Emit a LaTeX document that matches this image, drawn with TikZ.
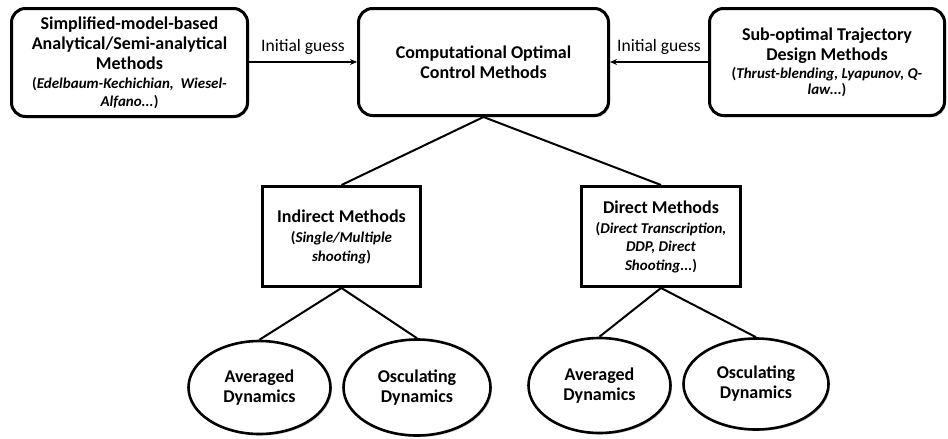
\documentclass[tikz,border=0pt]{standalone}
\usepackage{fontspec}
\setmainfont{Carlito}
\usetikzlibrary{shapes.geometric,arrows.meta,shadows}
\begin{document}
\begin{tikzpicture}[x=1pt,y=-1pt,
  base/.style={draw=black, fill=white, align=center, inner sep=0pt,
    font=\fontsize{18}{20}\selectfont\bfseries,
    drop shadow={shadow xshift=1.5pt, shadow yshift=-1.5pt, opacity=0.35, fill=black!60}},
  rbox/.style={base, line width=3pt, rounded corners=14pt},
  sbox/.style={base, line width=3pt},
  oval/.style={base, ellipse, line width=2.6pt},
  conn/.style={line width=2pt},
  arr/.style={line width=2pt, -{Stealth[length=7pt,width=6pt]}},
  lbl/.style={font=\fontsize{17.5}{20}\selectfont}
]
\useasboundingbox (0,0) rectangle (948,439);

\node[rbox, minimum width=236pt, minimum height=108pt] (sm) at (129.5,62.5)
  {Simplified-model-based\\
   Analytical/Semi-analytical\\
   Methods\\[-1pt]
   {\fontsize{15}{18}\selectfont(\textit{Edelbaum-Kechichian,\ \ Wiesel-}}\\[-2pt]
   {\fontsize{15}{18}\selectfont\textit{Alfano...})}};

\node[rbox, minimum width=250pt, minimum height=107pt] (co) at (483.5,62)
  {Computational Optimal\\
   Control Methods};

\node[rbox, minimum width=235pt, minimum height=107pt] (so) at (827,62)
  {Sub-optimal Trajectory\\
   Design Methods\\[-2pt]
   {\fontsize{15}{18}\selectfont(\textit{Thrust-blending, Lyapunov, Q-}}\\[-4pt]
   {\fontsize{15}{18}\selectfont\textit{law...})}};

\node[sbox, minimum width=158pt, minimum height=100pt] (ind) at (341.5,236.5)
  {Indirect Methods\\
   {\fontsize{15}{18}\selectfont(\textit{Single/Multiple}}\\[-1pt]
   {\fontsize{15}{18}\selectfont\textit{shooting})}};

\node[sbox, minimum width=159pt, minimum height=100pt] (dir) at (661,236.5)
  {Direct Methods\\
   {\fontsize{15}{18}\selectfont(\textit{Direct Transcription,}}\\[-2pt]
   {\fontsize{15}{18}\selectfont\textit{DDP, Direct}}\\[-1pt]
   {\fontsize{15}{18}\selectfont\textit{Shooting...})}};

\node[oval, minimum width=142pt, minimum height=93pt] (a1) at (259.5,387.5)
  {Averaged\\ Dynamics};
\node[oval, minimum width=147pt, minimum height=96pt] (o1) at (417,387.5)
  {Osculating\\ Dynamics};
\node[oval, minimum width=142pt, minimum height=95pt] (a2) at (599.5,385.5)
  {Averaged\\ Dynamics};
\node[oval, minimum width=145pt, minimum height=91pt] (o2) at (756,384)
  {Osculating\\ Dynamics};

\draw[arr] (sm.east |- 0,62) -- node[above=6pt, lbl, inner sep=0pt] {Initial guess} (co.west |- 0,62);
\draw[arr] (so.west |- 0,62) -- node[above=6pt, lbl, inner sep=0pt] {Initial guess} (co.east |- 0,62);

\draw[conn] (co.south) -- (ind.north);
\draw[conn] (co.south) -- (dir.north);
\draw[conn] (ind.south) -- (a1.north);
\draw[conn] (ind.south) -- (o1.north);
\draw[conn] (dir.south) -- (a2.north);
\draw[conn] (dir.south) -- (o2.north);
\end{tikzpicture}
\end{document}
